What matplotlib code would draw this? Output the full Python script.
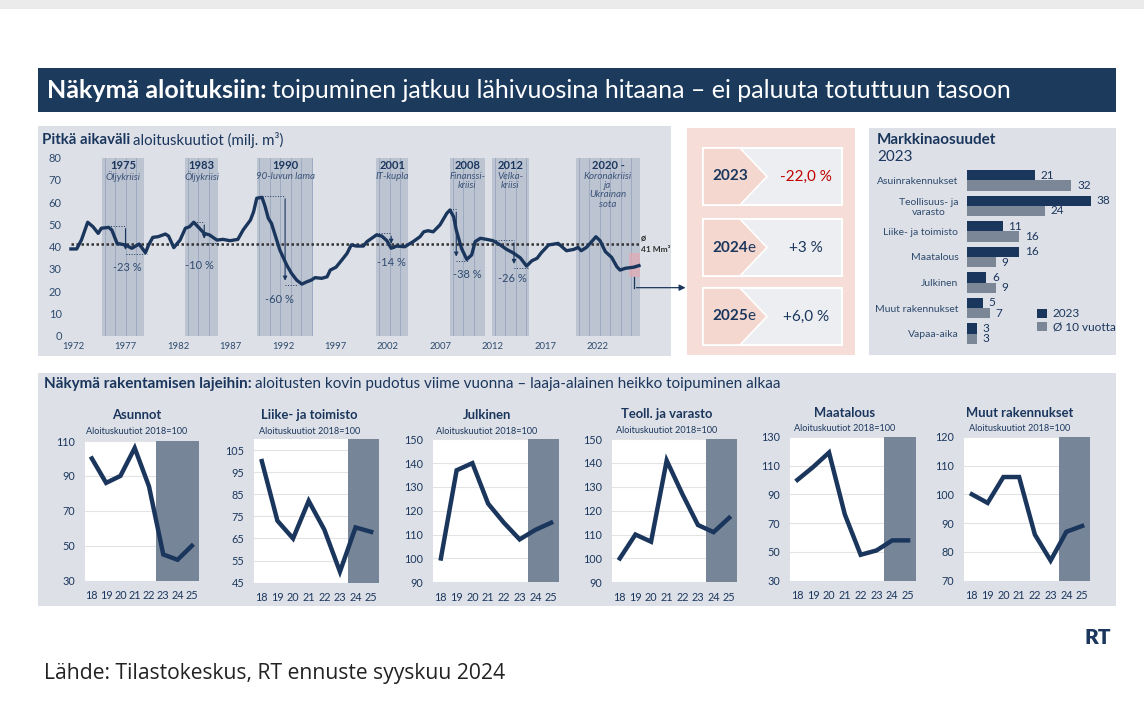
import numpy as np
import matplotlib
matplotlib.use('Agg')
import matplotlib.pyplot as plt
from matplotlib.patches import Rectangle, Polygon

W, H = 1144, 705
NAVY = '#1b365d'
TXT = '#2f4a6e'
PANEL = '#dde1e7'
BAND = '#bcc4d2'
BANDLINE = '#98a5bd'
PINK = '#f6ddd7'
SHADE = '#768698'
GREYBAR = '#7b8797'
RED = '#c00000'

plt.rcParams['font.family'] = ['Lato', 'DejaVu Sans']

# long-term series (milj. m3)
lt_year = [1971.8, 1972.35, 1972.8, 1973.4, 1973.9, 1974.4, 1974.7, 1975.4, 1975.7, 1976.2,
           1977.0, 1977.6, 1978.3, 1978.9, 1979.2, 1979.6, 1980.1, 1980.8, 1981.1, 1981.6,
           1982.2, 1982.7, 1983.1, 1983.5, 1983.9, 1984.5, 1985.0, 1985.7, 1986.3, 1986.95,
           1987.7, 1988.2, 1988.9, 1989.2, 1989.5, 1990.0, 1990.3, 1990.6, 1990.9, 1991.2,
           1991.7, 1992.35, 1992.8, 1993.3, 1993.8, 1994.3, 1994.7, 1995.05, 1995.7, 1996.2,
           1996.5, 1997.05, 1997.6, 1998.1, 1998.5, 1999.0, 1999.65, 2000.0, 2000.9, 2001.4,
           2001.9, 2002.3, 2002.8, 2003.6, 2004.4, 2005.05, 2005.4, 2005.8, 2006.3, 2006.95,
           2007.6, 2007.9, 2008.25, 2008.5, 2009.0, 2009.5, 2009.97, 2010.3, 2010.8, 2011.4,
           2012.0, 2012.7, 2013.3, 2013.9, 2014.6, 2015.2, 2015.7, 2016.2, 2016.6, 2017.3,
           2018.2, 2019.0, 2019.7, 2020.1, 2020.4, 2020.9, 2021.4, 2021.8, 2022.2, 2022.7,
           2023.3, 2023.8, 2024.1, 2024.6, 2025.4, 2025.9]
lt_value = [38.9, 38.9, 42.9, 50.9, 48.9, 45.9, 48.2, 48.6, 47.4, 41.4,
            40.7, 39.2, 41.1, 37.2, 40.7, 44.1, 44.4, 45.6, 44.7, 39.5,
            42.9, 48.2, 48.9, 50.9, 48.9, 45.9, 45.2, 42.9, 43.2, 42.6,
            43.2, 47.4, 51.9, 55.6, 61.7, 62.1, 57.9, 52.7, 50.4, 45.9,
            38.4, 31.7, 28.0, 24.9, 23.1, 24.2, 24.9, 26.0, 25.7, 26.4,
            29.4, 30.7, 33.9, 36.9, 40.7, 40.2, 40.2, 42.2, 45.2, 44.7,
            42.6, 39.2, 40.2, 39.9, 42.2, 44.4, 46.6, 47.1, 46.6, 49.7,
            54.9, 56.4, 53.4, 47.4, 39.2, 34.2, 36.2, 42.2, 43.7, 43.2,
            42.6, 40.7, 38.7, 37.2, 34.9, 31.2, 33.6, 34.7, 37.2, 40.7,
            41.4, 38.1, 38.7, 39.6, 38.1, 39.6, 42.2, 44.4, 42.6, 37.7,
            35.1, 30.9, 29.4, 30.2, 30.7, 31.4]
lt_avg = 41

crisis_start = [1974.76, 1982.7, 1989.5, 2000.9, 2007.9, 2011.9, 2019.9]
crisis_end = [1978.76, 1985.8, 1994.9, 2003.9, 2011.2, 2015.4, 2026.0]
crisis_year = ['1975', '1983', '1990', '2001', '2008', '2012', '2020 -']
crisis_name = ['Öljykriisi', 'Öljykriisi', '90-luvun lama', 'IT-kupla', 'Finanssi-\nkriisi',
               'Velka-\nkriisi', 'Koronakriisi\nja\nUkrainan\nsota']

drop_label = ['-23 %', '-10 %', '-60 %', '-14 %', '-38 %', '-26 %']
drop_peak_x = [1975.3, 1983.5, 1990.0, 2000.9, 2007.9, 2012.0]
drop_top = [49.3, 50.9, 62.7, 45.9, 56.7, 42.9]
drop_arrow_x = [1977.0, 1984.5, 1992.2, 2002.3, 2008.5, 2014.0]
drop_bottom = [37.2, 42.2, 23.4, 40.0, 34.2, 30.9]
drop_end_x = [1979.0, 1985.8, 1993.4, 2002.8, 2009.65, 2015.4]
drop_text_x = [1977.2, 1984.0, 1991.7, 2002.35, 2009.55, 2013.8]
drop_text_y = [30.6, 31.4, 16.3, 32.7, 27.2, 25.7]

# forecast boxes
fc_year = ['2023', '2024', '2025']
fc_suffix = ['', 'e', 'e']
fc_change = ['-22,0 %', '+3 %', '+6,0 %']
fc_color = [RED, NAVY, NAVY]

# market shares
ms_cats = ['Asuinrakennukset', 'Teollisuus- ja\nvarasto', 'Liike- ja toimisto', 'Maatalous',
           'Julkinen', 'Muut rakennukset', 'Vapaa-aika']
ms_2023 = [21, 38, 11, 16, 6, 5, 3]
ms_avg10 = [32, 24, 16, 9, 9, 7, 3]

# small charts, index 2018=100
yrs = ['18', '19', '20', '21', '22', '23', '24', '25']
asunnot = [100, 86, 90, 106, 84, 45, 42, 50]
liike = [100, 73, 65, 82, 69, 50, 70, 68]
julkinen = [100, 137, 140, 123, 115, 108, 112, 115]
teoll = [100, 110, 107, 141, 127, 114, 111, 117]
maatalous = [100, 109, 119, 76, 48, 51, 58, 58]
muut = [100, 97, 106, 106, 86, 77, 87, 89]


def box(l, t, r, b):
    return [l / W, 1 - b / H, (r - l) / W, (b - t) / H]


fig = plt.figure(figsize=(W / 100, H / 100), dpi=100)
bg = fig.add_axes([0, 0, 1, 1], zorder=0)
bg.set_xlim(0, W)
bg.set_ylim(H, 0)
bg.axis('off')
rend = fig.canvas.get_renderer()


def rich(x, y, parts, size, gap=0.0):
    for s, weight, color in parts:
        t = bg.text(x, y, s, fontsize=size, fontweight=weight, color=color, va='center', ha='left')
        x = t.get_window_extent(renderer=rend).x1 + gap


def rect(l, t, r, b, fc, **kw):
    bg.add_patch(Rectangle((l, t), r - l, b - t, facecolor=fc, **kw))


rect(0, 0, W, 9, '#ebebeb', lw=0)
rect(38, 68, 1116, 112, '#1b3a5c', lw=0)
rich(47, 90, [('Näkymä aloituksiin:', 'bold', 'white'),
              ('toipuminen jatkuu lähivuosina hitaana – ei paluuta totuttuun tasoon', 'normal', 'white')],
     18, gap=5)

# panels
rect(38, 126, 671, 356, PANEL, lw=0)
rect(687, 128, 855, 355, PINK, lw=0)
rect(869, 128, 1116, 355, PANEL, lw=0)
rect(38, 373, 1116, 606, PANEL, lw=0)

rich(42, 140, [('Pitkä aikaväli', 'bold', NAVY), ('aloituskuutiot (milj. m³)', 'normal', NAVY)], 10.8, gap=3)
rich(44, 384, [('Näkymä rakentamisen lajeihin:', 'bold', NAVY),
               ('aloitusten kovin pudotus viime vuonna – laaja-alainen heikko toipuminen alkaa', 'normal', NAVY)],
     11, gap=3)
bg.text(877, 140, 'Markkinaosuudet', fontsize=11, fontweight='bold', color=NAVY, va='center')
bg.text(877, 157, '2023', fontsize=11, color=NAVY, va='center')

# forecast boxes
box_top = [148, 219, 288]
for i in range(3):
    t, b = box_top[i], box_top[i] + 57
    l, r = 703, 842
    m = (t + b) / 2
    rect(l, t, r, b, '#eceef1', edgecolor='white', lw=1.5)
    bg.add_patch(Polygon([(l, t), (740, t), (767, m), (740, b), (l, b)], closed=True,
                         facecolor='#f4d8d0', edgecolor='white', lw=1.2))
    rich(712, m, [(fc_year[i], 'bold', NAVY), (fc_suffix[i], 'normal', NAVY)], 11)
    bg.text(806, m, fc_change[i], fontsize=11, color=fc_color[i], ha='center', va='center')

# long-term chart
ax = fig.add_axes(box(66, 157.5, 645, 335.5), zorder=2)
ax.set_facecolor('none')
ax.set_xlim(1972 + (66 - 73) / 10.5, 1972 + (645 - 73) / 10.5)
ax.set_ylim(0, 80)
for s in ax.spines.values():
    s.set_visible(False)
ax.set_xticks(range(1972, 2023, 5))
ax.set_yticks(range(0, 81, 10))
ax.tick_params(axis='x', length=0, labelsize=6.8, colors=TXT, pad=5)
ax.tick_params(axis='y', length=0, labelsize=8, colors=TXT, pad=3)
for a, b, yl, nm in zip(crisis_start, crisis_end, crisis_year, crisis_name):
    ax.axvspan(a, b, color=BAND, lw=0, zorder=1)
    for v in np.arange(a + 0.25, b - 0.1, 1.0):
        ax.axvline(v, color=BANDLINE, lw=0.6, zorder=1.5)
    ax.text((a + b) / 2, 76.3, yl, fontsize=8, fontweight='bold', color=NAVY, ha='center', va='center', zorder=5)
    ax.text((a + b) / 2, 73.7, nm, fontsize=7, style='italic', color='#3b5277', ha='center', va='top',
            linespacing=1.05, zorder=5)
ax.plot([lt_year[0], lt_year[-1]], [lt_avg, lt_avg], color='#333333', lw=1.8, ls=(0, (1, 1)), zorder=3)
ax.plot(lt_year, lt_value, color=NAVY, lw=2.4, zorder=4, solid_joinstyle='round')

for i in range(len(drop_label)):
    ax.plot([drop_peak_x[i], drop_arrow_x[i]], [drop_top[i], drop_top[i]], color=NAVY, lw=0.7, ls=':', zorder=3)
    ax.plot([drop_arrow_x[i], drop_end_x[i]], [drop_bottom[i] - 0.6, drop_bottom[i] - 0.6], color=NAVY, lw=0.7,
            ls=':', zorder=3)
    ax.annotate('', xy=(drop_arrow_x[i], drop_bottom[i]), xytext=(drop_arrow_x[i], drop_top[i]),
                arrowprops=dict(arrowstyle='-|>', color=NAVY, lw=0.8, mutation_scale=6), zorder=3)
    ax.text(drop_text_x[i], drop_text_y[i], drop_label[i], fontsize=8, color=TXT, ha='center', va='center',
            zorder=5)

ax.add_patch(Rectangle((2024.95, 26.4), 1.05, 10.8, facecolor='#e3a9b4', alpha=0.7, lw=0, zorder=2))
ax.plot([2025.46, 2025.46], [26.4, 21.5], color=NAVY, lw=0.9, clip_on=False, zorder=5)
ax.annotate('', xy=(2030.6, 21.5), xytext=(2025.4, 21.5), annotation_clip=False,
            arrowprops=dict(arrowstyle='-|>', color=NAVY, lw=0.9, mutation_scale=9), zorder=5)
ax.text(2026.1, 43.2, 'ø', fontsize=6.5, fontweight='bold', color='#333333', va='center', clip_on=False)
ax.text(2026.1, 38.6, '41 Mm³', fontsize=6, fontweight='bold', color='#333333', va='center', clip_on=False)

# market shares bar chart
bx = fig.add_axes(box(966.7, 167.5, 1114, 346.4), zorder=2)
bx.set_facecolor('none')
pos = np.arange(len(ms_cats))
b1 = bx.barh(pos - 0.2, ms_2023, height=0.4, color=NAVY, label='2023')
b2 = bx.barh(pos + 0.2, ms_avg10, height=0.4, color=GREYBAR, label='Ø 10 vuotta')
bx.bar_label(b1, padding=4, fontsize=8.5, color=NAVY)
bx.bar_label(b2, padding=4, fontsize=8.5, color=NAVY)
bx.set_ylim(6.5, -0.5)
bx.set_xlim(0, 45)
bx.set_yticks(pos)
bx.set_yticklabels(ms_cats, multialignment='center')
bx.set_xticks([])
bx.tick_params(axis='y', length=0, labelsize=7.5, colors=TXT, pad=6)
for s in bx.spines.values():
    s.set_visible(False)
bx.legend(loc='upper left', bbox_to_anchor=(0.44, 0.245), frameon=False, fontsize=8.5, handlelength=0.8,
          handleheight=0.8, handletextpad=0.5, labelspacing=0.2, borderpad=0, labelcolor=NAVY)

# small charts
charts = [
    ('Asunnot', asunnot, (84.7, 441, 199, 580.7), (30, 110), range(30, 111, 20), 4.5),
    ('Liike- ja toimisto', liike, (254, 439, 379, 582.7), (45, 110), range(45, 106, 10), 5.5),
    ('Julkinen', julkinen, (433, 439.3, 559, 582.3), (90, 150), range(90, 151, 10), 5.5),
    ('Teoll. ja varasto', teoll, (612, 439, 737, 582.3), (90, 150), range(90, 151, 10), 5.5),
    ('Maatalous', maatalous, (789.5, 436.7, 916, 580.7), (30, 130), range(30, 131, 20), 5.5),
    ('Muut rakennukset', muut, (964, 436.7, 1090, 580.7), (70, 120), range(70, 121, 10), 5.5),
]
title_x = [137, 309.7, 487, 666.7, 845, 1019.3]
title_y = [415, 415, 415, 414.3, 412.7, 412.7]
for k, (name, vals, (l, t, r, b), ylim, yt, fstart) in enumerate(charts):
    a = fig.add_axes(box(l, t, r, b), zorder=2)
    a.set_facecolor('white')
    x = np.arange(len(yrs))
    a.axvspan(fstart, len(yrs) - 0.5, color=SHADE, lw=0, zorder=1)
    a.plot(x, vals, color=NAVY, lw=3.2, zorder=3, solid_joinstyle='miter')
    a.set_xlim(-0.5, len(yrs) - 0.5)
    a.set_ylim(*ylim)
    a.set_yticks(list(yt))
    a.set_xticks(x)
    a.set_xticklabels(yrs)
    a.grid(axis='y', color='#e3e3e3', lw=0.8, zorder=0)
    a.set_axisbelow(True)
    for s in a.spines.values():
        s.set_visible(False)
    a.tick_params(length=0, labelsize=7.8, colors=NAVY)
    a.tick_params(axis='y', pad=7)
    a.tick_params(axis='x', pad=7)
    bg.text(title_x[k], title_y[k], name, fontsize=9.4, fontweight='bold', color=NAVY, ha='center', va='center')
    bg.text(title_x[k], title_y[k] + 16, 'Aloituskuutiot 2018=100', fontsize=6.6, color=NAVY, ha='center',
            va='center')

bg.text(44, 674, 'Lähde: Tilastokeskus, RT ennuste syyskuu 2024', fontsize=15.2, color='#222222', va='center',
        family=['Open Sans', 'DejaVu Sans'])
bg.text(1098, 637, 'RT', fontsize=15, fontweight='heavy', color=NAVY, ha='center', va='center')

fig.savefig('out.png', dpi=100)
